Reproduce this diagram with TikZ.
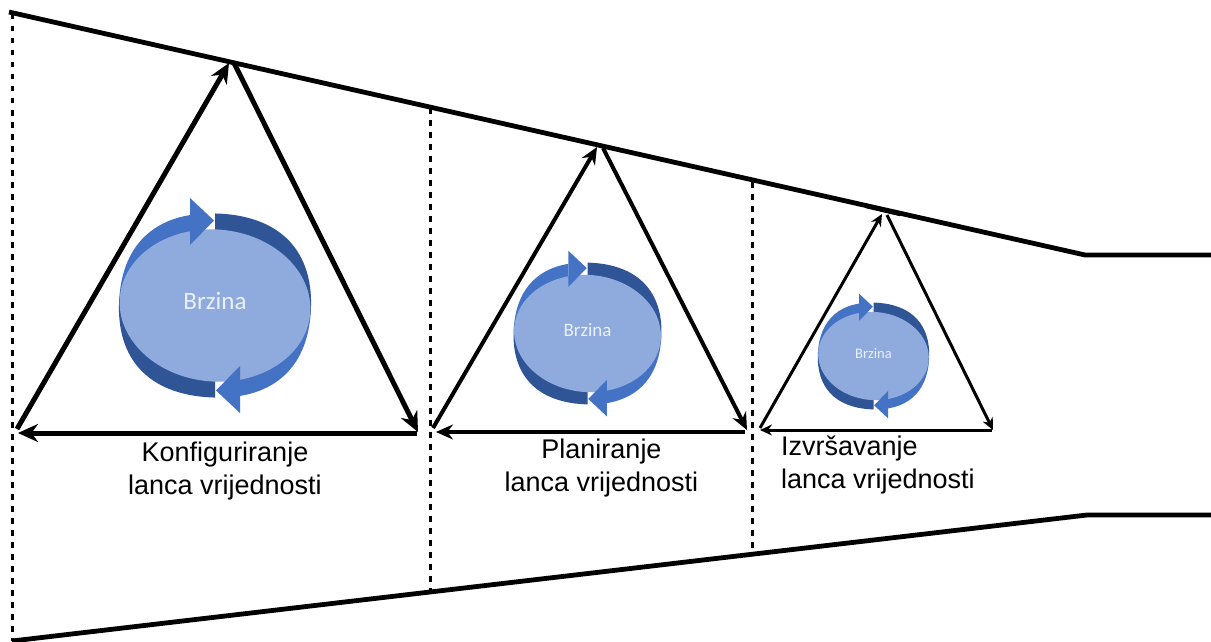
\documentclass[tikz,border=0pt]{standalone}
\usepackage{fontspec}
\setmainfont{Liberation Sans}
\newfontfamily\calib{Carlito}
\usetikzlibrary{arrows.meta}
\definecolor{lightc}{HTML}{8FAADC}
\definecolor{midc}{HTML}{4472C4}
\definecolor{darkc}{HTML}{2F5597}
\definecolor{txtc}{HTML}{EAF0FA}
\tikzset{
  frame/.style={line width=4.8pt,line join=miter,black},
  sep/.style={line width=3pt,dash pattern=on 5.5pt off 6.5pt,black},
  bigarrow/.style={line width=5pt,-{Stealth[length=20pt,width=18pt]}},
  midarrow/.style={line width=4pt,-{Stealth[length=17pt,width=15pt]}},
  smallarrow/.style={line width=3pt,-{Stealth[length=12pt,width=11pt]}},
  caption/.style={font=\fontsize{27}{33}\selectfont,align=center,inner sep=0pt},
  speed/.style={text=txtc,inner sep=0pt}
}
\newcommand{\bandpart}[5]{% colour x1 y1 x2 y2
  \begin{scope}
    \clip (#2,#3) rectangle (#4,#5);
    \fill[#1,rotate=-3] (0,-92) .. controls (61.4,-92) and (96,-58.9) .. (96,0)
      .. controls (96,58.9) and (61.4,92) .. (0,92)
      .. controls (-61.4,92) and (-96,58.9) .. (-96,0)
      .. controls (-96,-58.9) and (-61.4,-92) .. (0,-92) -- cycle;
  \end{scope}
}
\newcommand{\cycle}[5]{% cx cy scale fontsize name
  \begin{scope}[shift={(#1,#2)},scale=#3]
    \bandpart{darkc}{0}{-120}{120}{8}
    \bandpart{darkc}{-120}{-8}{0}{120}
    \bandpart{midc}{-120}{-120}{-25}{-8}
    \bandpart{midc}{25}{8}{120}{120}
    \fill[lightc,rotate=-5] (0,0) ellipse[x radius=95.5,y radius=76];
    \fill[midc] (-25,-107.5) -- (-1,-85) -- (-25,-60.5) -- cycle;
    \fill[midc] (25,107.5) -- (1,85) -- (25,60.5) -- cycle;
    \node[speed,font=\calib\fontsize{#4}{#4}\selectfont] (#5) at (0,-5) {Brzina};
  \end{scope}
}
\begin{document}
\begin{tikzpicture}[x=1pt,y=-1pt]
\useasboundingbox (0,0) rectangle (1211,642);
\fill[white] (0,0) rectangle (1211,642);
% frame
\coordinate (tl) at (9,12);
\coordinate (tm) at (1085,255);
\coordinate (tr) at (1211,255);
\coordinate (bl) at (12,641);
\coordinate (bm) at (1087,515);
\coordinate (br) at (1211,515);
\draw[frame] (tl) -- (tm) -- (tr);
\draw[frame] (bl) -- (bm) -- (br);
\coordinate (patchA) at (866,207);
\coordinate (patchB) at (900,215);
\draw[line width=2.4pt] (patchA) -- (patchB);
% separators
\coordinate (s1a) at (12,14);  \coordinate (s1b) at (12,641);
\coordinate (s2a) at (430,108); \coordinate (s2b) at (430,595);
\coordinate (s3a) at (752,182); \coordinate (s3b) at (752,555);
\draw[sep] (s1a) -- (s1b);
\draw[sep] (s2a) -- (s2b);
\draw[sep] (s3a) -- (s3b);
% circles
\cycle{215}{305.5}{1}{25}{b1}
\cycle{587.5}{333.5}{0.77}{19}{b2}
\cycle{873.5}{356}{0.58}{14.5}{b3}
% big triangle
\coordinate (a1) at (17,429); \coordinate (a2) at (229,63);
\coordinate (a3) at (234,63); \coordinate (a4) at (418,432);
\coordinate (a5) at (417,433); \coordinate (a6) at (18,433);
\draw[bigarrow] (a1) -- (a2);
\draw[bigarrow] (a3) -- (a4);
\draw[bigarrow] (a5) -- (a6);
% middle triangle
\coordinate (c1) at (433,428); \coordinate (c2) at (597,147);
\coordinate (c3) at (603,148); \coordinate (c4) at (747,430);
\coordinate (c5) at (745,432); \coordinate (c6) at (436,432);
\draw[midarrow] (c1) -- (c2);
\draw[midarrow] (c3) -- (c4);
\draw[midarrow] (c5) -- (c6);
% small triangle
\coordinate (d1) at (760,428); \coordinate (d2) at (882,214);
\coordinate (d3) at (887,215); \coordinate (d4) at (993,430);
\coordinate (d5) at (992,430); \coordinate (d6) at (760,430);
\draw[smallarrow] (d1) -- (d2);
\draw[smallarrow] (d3) -- (d4);
\draw[smallarrow] (d5) -- (d6);
% captions
\node[caption] (t1) at (225,471) {Konfiguriranje\\lanca vrijednosti};
\node[caption] (t2) at (601.5,468) {Planiranje\\lanca vrijednosti};
\node[caption,align=left,anchor=west] (t3) at (781,465) {Izvršavanje\\lanca vrijednosti};
\end{tikzpicture}
\end{document}
